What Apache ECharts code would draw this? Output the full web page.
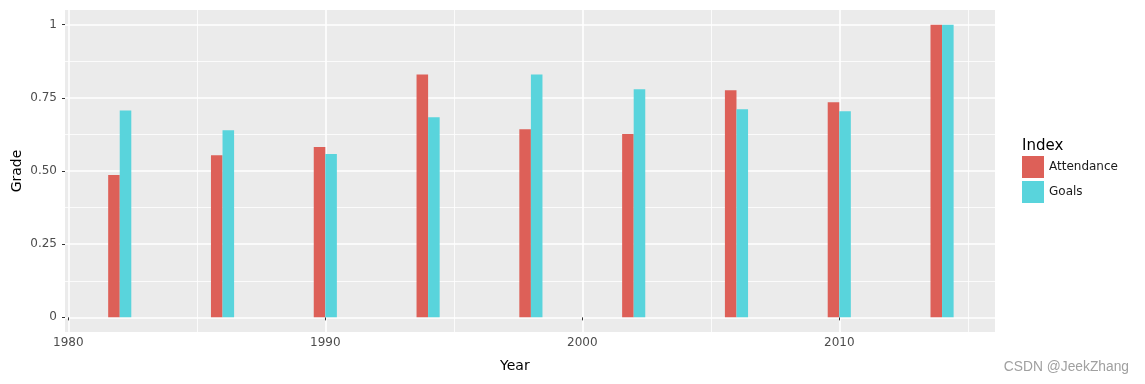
<!DOCTYPE html>
<html>
<head>
<meta charset="utf-8">
<script src="https://cdn.jsdelivr.net/npm/echarts@6/dist/echarts.min.js"></script>
<style>
html,body{margin:0;padding:0;background:#fff;}
#chart{width:1145px;height:384px;}
</style>
</head>
<body>
<div id="chart"></div>
<script>
const years = [1982, 1986, 1990, 1994, 1998, 2002, 2006, 2010, 2014];
const attendance = [0.486, 0.554, 0.582, 0.830, 0.643, 0.626, 0.776, 0.735, 1.0];
const goals = [0.707, 0.639, 0.558, 0.684, 0.830, 0.779, 0.711, 0.704, 1.0];
const xMajorTicks = [1980, 1990, 2000, 2010];
const xMinorTicks = [1985, 1995, 2005, 2015];
const yMajorTicks = [0, 0.25, 0.5, 0.75, 1];
const yTickLabels = ['0', '0.25', '0.50', '0.75', '1'];
const yMinorTicks = [0.125, 0.375, 0.625, 0.875];
const seriesNames = ['Attendance', 'Goals'];

const FONT = 'DejaVu Sans';
const HALF = 0.45;
const COLORS = ['#DD6058', '#59D4DC'];

function makeRender(side) {
  return function (params, api) {
    const x = api.value(0), y = api.value(1);
    const x0 = side < 0 ? x - HALF : x;
    const x1 = side < 0 ? x : x + HALF;
    const p0 = api.coord([x0, y]);
    const p1 = api.coord([x1, 0]);
    return {
      type: 'rect',
      shape: {x: p0[0], y: p0[1], width: p1[0] - p0[0], height: p1[1] - p0[1]},
      style: api.style()
    };
  };
}

const chart = echarts.init(document.getElementById('chart'), null, {renderer: 'canvas'});
const xMin = 1979.87, xMax = 2016.06;
const yMin = -0.05, yMax = 1.05;

chart.setOption({
  animation: false,
  textStyle: {fontFamily: FONT},
  grid: {left: 65, right: 150, top: 10, bottom: 52, show: true, backgroundColor: '#EBEBEB', borderWidth: 0},
  legend: {
    data: seriesNames,
    orient: 'vertical',
    left: 1022,
    top: 156,
    padding: 0,
    itemWidth: 22,
    itemHeight: 22,
    itemGap: 3,
    icon: 'rect',
    textStyle: {fontFamily: FONT, fontSize: 12, color: '#1a1a1a'}
  },
  xAxis: [
    {
      type: 'value', min: xMin, max: xMax,
      axisLine: {show: false},
      axisTick: {show: true, length: 3, lineStyle: {color: '#333', width: 1}, customValues: xMajorTicks},
      axisLabel: {show: true, customValues: xMajorTicks, color: '#4D4D4D', fontSize: 12, margin: 5, fontFamily: FONT, formatter: v => String(v)},
      splitLine: {show: true, lineStyle: {color: '#FFFFFF', width: 1.6}},
      z: 1
    },
    {
      type: 'value', min: xMin, max: xMax, position: 'bottom',
      axisLine: {show: false},
      axisTick: {show: false, customValues: xMinorTicks},
      axisLabel: {show: false, customValues: xMinorTicks},
      splitLine: {show: true, lineStyle: {color: '#FFFFFF', width: 0.8}}
    }
  ],
  yAxis: [
    {
      type: 'value', min: yMin, max: yMax,
      axisLine: {show: false},
      axisTick: {show: true, length: 3, lineStyle: {color: '#333', width: 1}, customValues: yMajorTicks},
      axisLabel: {show: true, customValues: yMajorTicks, color: '#4D4D4D', fontSize: 12, margin: 8, fontFamily: FONT,
        formatter: v => { const i = yMajorTicks.findIndex(t => Math.abs(t - v) < 1e-9); return i >= 0 ? yTickLabels[i] : ''; }},
      splitLine: {show: true, lineStyle: {color: '#FFFFFF', width: 1.6}}
    },
    {
      type: 'value', min: yMin, max: yMax, position: 'left',
      axisLine: {show: false},
      axisTick: {show: false, customValues: yMinorTicks},
      axisLabel: {show: false, customValues: yMinorTicks},
      splitLine: {show: true, lineStyle: {color: '#FFFFFF', width: 0.8}}
    }
  ],
  series: [
    {
      name: seriesNames[0], type: 'custom', xAxisIndex: 0, yAxisIndex: 0,
      renderItem: makeRender(-1),
      itemStyle: {color: COLORS[0]},
      encode: {x: 0, y: 1},
      data: years.map((y, i) => [y, attendance[i]]),
      z: 5
    },
    {
      name: seriesNames[1], type: 'custom', xAxisIndex: 0, yAxisIndex: 0,
      renderItem: makeRender(1),
      itemStyle: {color: COLORS[1]},
      encode: {x: 0, y: 1},
      data: years.map((y, i) => [y, goals[i]]),
      z: 5
    }
  ],
  graphic: [
    {type: 'text', left: 500, top: 359, style: {text: 'Year', fontFamily: FONT, fontSize: 14, fill: '#000'}},
    {type: 'text', x: 17, y: 171, rotation: Math.PI / 2, style: {text: 'Grade', fontFamily: FONT, fontSize: 14, fill: '#000', align: 'center', verticalAlign: 'middle'}},
    {type: 'text', left: 1022, top: 139, style: {text: 'Index', fontFamily: FONT, fontSize: 15, fill: '#000'}},
    {type: 'text', right: 16, top: 360, style: {text: 'CSDN @JeekZhang', fontFamily: 'Liberation Sans', fontSize: 13.8, fill: '#A0A0A0'}}
  ]
});
</script>
</body>
</html>
